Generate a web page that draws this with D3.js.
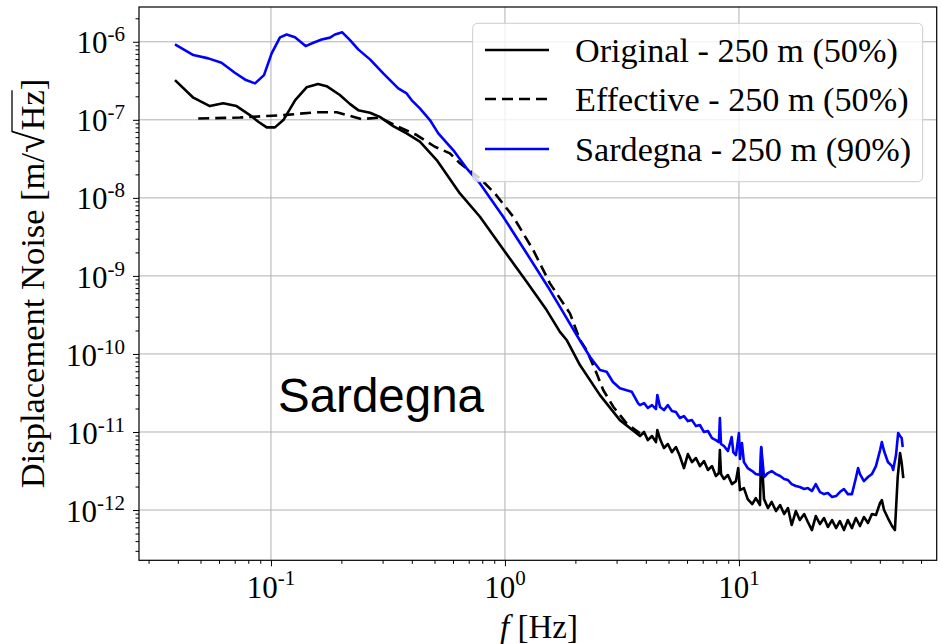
<!DOCTYPE html>
<html><head><meta charset="utf-8">
<script src="https://cdn.jsdelivr.net/npm/d3@7"></script>
<style>body{margin:0;background:#fff}svg{display:block}</style>
</head><body>
<svg id="c" width="942" height="644"></svg>
<script>
// ---------- data ----------
const xMajor = [0.1, 1, 10];
const xMajorExp = ["-1", "0", "1"];
const yMajor = [1e-12, 1e-11, 1e-10, 1e-9, 1e-8, 1e-7, 1e-6];
const yMajorExp = ["-12", "-11", "-10", "-9", "-8", "-7", "-6"];
const seriesNames = ["Original - 250 m (50%)", "Effective - 250 m (50%)", "Sardegna - 250 m (90%)"];

const origF = [0.0389,0.0466,0.0548,0.0625,0.0713,0.0813,0.0883,0.0959,0.104,0.113,0.127,0.142,0.159,0.173,0.197,0.218,0.236,0.265,0.292,0.333,0.380,0.433,0.511,0.642,0.782,1.0,1.238,1.507,1.718,1.835,2.092,2.547,3.10,3.65,
  3.776,3.93,4.08,4.25,4.42,4.48,4.60,4.78,4.97,5.17,5.38,5.59,5.82,6.05,6.30,6.55,6.81,7.09,7.37,7.67,7.97,8.21,8.29,8.38,8.63,8.97,9.33,9.71,9.93,10.1,10.5,10.9,11.4,11.8,12.3,12.45,12.8,13.3,13.8,14.4,15.0,15.6,16.2,16.8,17.5,18.2,19.0,19.7,20.5,21.3,22.2,23.1,24.0,25.0,26.0,27.0,28.1,29.2,30.4,31.6,32.9,34.2,35.6,37.0,38.5,40.1,40.8,41.7,43.3,45.1,46.4,47.7,48.8,49.6,50.4];
const origV = [3.23e-7,1.92e-7,1.50e-7,1.63e-7,1.50e-7,1.15e-7,9.44e-8,8.0e-8,8.0e-8,9.93e-8,1.79e-7,2.61e-7,2.87e-7,2.70e-7,2.08e-7,1.59e-7,1.33e-7,1.23e-7,1.09e-7,8.32e-8,6.70e-8,5.24e-8,3.05e-8,1.14e-8,5.73e-9,2.04e-9,8.41e-10,3.65e-10,1.92e-10,1.51e-10,7.21e-11,2.97e-11,1.42e-11,9.62e-12,
  8.88e-12,1.00e-11,7.88e-12,8.88e-12,7.43e-12,1.06e-11,8.12e-12,6.23e-12,7.01e-12,5.53e-12,6.42e-12,4.92e-12,3.45e-12,5.22e-12,4.12e-12,4.64e-12,3.66e-12,4.24e-12,3.26e-12,3.66e-12,2.73e-12,2.98e-12,5.87e-12,2.89e-12,2.50e-12,2.81e-12,2.15e-12,2.35e-12,3.45e-12,1.80e-12,1.91e-12,1.38e-12,1.19e-12,1.42e-12,1.16e-12,6.23e-12,1.38e-12,1.06e-12,1.27e-12,9.71e-13,1.16e-12,8.89e-13,1.06e-12,6.43e-13,9.71e-13,7.44e-13,8.89e-13,7.02e-13,5.54e-13,8.38e-13,6.62e-13,7.90e-13,6.06e-13,7.44e-13,5.88e-13,7.23e-13,5.54e-13,7.44e-13,5.88e-13,7.90e-13,6.24e-13,8.14e-13,6.82e-13,8.89e-13,8.63e-13,1.23e-12,1.34e-12,1.00e-12,7.90e-13,6.24e-13,5.54e-13,2.65e-12,5.38e-12,4.00e-12,2.57e-12];

const effF = [0.0489,0.0737,0.113,0.157,0.191,0.218,0.244,0.292,0.344,0.420,0.502,0.582,0.642,0.782,0.906,1.085,1.321,1.557,1.896,2.092,2.234,2.465,2.63,2.903,3.31,3.776];
const effV = [1.04e-7,1.07e-7,1.15e-7,1.25e-7,1.25e-7,1.12e-7,1.02e-7,1.07e-7,8.32e-8,6.38e-8,4.52e-8,3.72e-8,2.77e-8,1.78e-8,1.14e-8,5.73e-9,2.14e-9,8.03e-10,3.31e-10,1.51e-10,1.12e-10,5.64e-11,3.45e-11,2.11e-11,1.29e-11,9.61e-12];

const sardF = [0.0389,0.0466,0.0540,0.0615,0.0701,0.0782,0.0855,0.0934,0.1007,0.1093,0.1167,0.1267,0.1407,0.1517,0.1648,0.1788,0.1878,0.2018,0.2178,0.236,0.265,0.302,0.350,0.380,0.399,0.433,0.478,0.519,0.601,0.686,0.782,0.983,1.238,1.557,1.718,2.025,2.307,2.547,2.72,2.894,3.10,3.48,3.71,
  3.776,3.93,4.08,4.25,4.42,4.48,4.60,4.78,4.97,5.17,5.38,5.59,5.82,6.05,6.30,6.55,6.81,7.09,7.37,7.67,7.97,8.21,8.29,8.38,8.63,8.97,9.31,9.46,9.71,10.0,10.1,10.3,10.5,10.9,11.4,11.8,12.3,12.45,12.8,13.3,13.8,14.4,15.0,15.6,16.2,16.8,17.5,18.2,19.0,19.7,20.5,21.3,22.2,23.1,24.0,25.0,26.0,27.0,28.1,29.2,30.4,31.6,32.3,32.9,34.2,35.6,37.0,38.5,40.1,40.8,41.7,43.3,45.1,45.6,46.9,47.9,48.8,49.6,50.1];
const sardV = [9.26e-7,6.76e-7,6.13e-7,5.38e-7,4.01e-7,3.23e-7,2.93e-7,3.74e-7,7.10e-7,1.14e-6,1.24e-6,1.14e-6,8.81e-7,9.71e-7,1.07e-6,1.13e-6,1.24e-6,1.32e-6,1.05e-6,7.99e-7,5.95e-7,3.94e-7,2.53e-7,2.18e-7,1.79e-7,1.40e-7,9.93e-8,6.71e-8,4.10e-8,2.39e-8,1.53e-8,5.73e-9,1.95e-9,6.59e-10,4.02e-10,1.75e-10,9.21e-11,6.22e-11,5.92e-11,4.37e-11,3.63e-11,3.28e-11,2.33e-11,
  2.21e-11,2.35e-11,2.03e-11,2.21e-11,1.97e-11,2.98e-11,2.09e-11,1.91e-11,2.21e-11,1.86e-11,1.80e-11,1.51e-11,1.60e-11,1.38e-11,1.42e-11,1.19e-11,1.23e-11,9.99e-12,1.03e-11,8.37e-12,7.88e-12,7.43e-12,1.51e-11,7.01e-12,6.61e-12,5.70e-12,8.62e-12,5.54e-12,5.07e-12,9.70e-12,4.50e-12,7.22e-12,4.12e-12,3.45e-12,3.16e-12,2.89e-12,2.81e-12,6.42e-12,2.65e-12,2.98e-12,3.16e-12,2.89e-12,2.73e-12,2.50e-12,2.42e-12,2.15e-12,2.03e-12,1.97e-12,1.86e-12,1.91e-12,1.75e-12,2.15e-12,1.70e-12,1.60e-12,1.65e-12,1.47e-12,1.51e-12,1.70e-12,1.86e-12,1.60e-12,1.60e-12,2.57e-12,3.45e-12,2.89e-12,2.35e-12,2.65e-12,2.89e-12,3.66e-12,5.87e-12,7.43e-12,5.70e-12,4.12e-12,3.66e-12,3.26e-12,5.07e-12,9.70e-12,8.88e-12,8.37e-12,6.42e-12];

// ---------- layout ----------
const L = 139, R = 936.7, T = 7, B = 560.3;
const serif = "'Liberation Serif','Times New Roman',serif";
const svg = d3.select("#c");
const x = d3.scaleLog().domain([0.0273, 70]).range([L, R]);
const y = d3.scaleLog().domain([2.27e-13, 2.79e-6]).range([B, T]);

// minor tick positions
const xMinor = [], yMinor = [];
for (let k = -2; k <= 1; k++) for (let m = 2; m <= 9; m++) { const v = m * Math.pow(10, k); if (v > x.domain()[0] && v < x.domain()[1]) xMinor.push(v); }
for (let k = -13; k <= -6; k++) for (let m = 2; m <= 9; m++) { const v = m * Math.pow(10, k); if (v > y.domain()[0] && v < y.domain()[1]) yMinor.push(v); }

// grid
const grid = svg.append("g").attr("stroke", "#b0b0b0").attr("stroke-width", 1);
grid.selectAll(".gx").data(xMajor).join("line").attr("x1", d => x(d)).attr("x2", d => x(d)).attr("y1", T).attr("y2", B);
grid.selectAll(".gy").data(yMajor).join("line").attr("y1", d => y(d)).attr("y2", d => y(d)).attr("x1", L).attr("x2", R);

// clip
svg.append("clipPath").attr("id", "clip").append("rect").attr("x", L).attr("y", T).attr("width", R - L).attr("height", B - T);

const line = d3.line().x(d => x(d[0])).y(d => y(d[1]));
const plot = svg.append("g").attr("clip-path", "url(#clip)");
const series = [
  { f: origF, v: origV, color: "#000", dash: null },
  { f: effF, v: effV, color: "#000", dash: "11,6" },
  { f: sardF, v: sardV, color: "#0000ff", dash: null }
];
series.forEach(s => {
  plot.append("path").datum(d3.zip(s.f, s.v)).attr("d", line)
    .attr("fill", "none").attr("stroke", s.color).attr("stroke-width", 2.6)
    .attr("stroke-linejoin", "round").attr("stroke-dasharray", s.dash);
});

// axes ticks
function styleAxis(g) { g.select(".domain").remove(); g.selectAll("line").attr("stroke", "#000").attr("stroke-width", 1); }
svg.append("g").attr("transform", `translate(0,${B})`).call(d3.axisBottom(x).tickValues(xMajor).tickSize(6).tickFormat("")).call(styleAxis);
svg.append("g").attr("transform", `translate(0,${B})`).call(d3.axisBottom(x).tickValues(xMinor).tickSize(3.5).tickFormat("")).call(styleAxis);
svg.append("g").attr("transform", `translate(${L},0)`).call(d3.axisLeft(y).tickValues(yMajor).tickSize(6).tickFormat("")).call(styleAxis);
svg.append("g").attr("transform", `translate(${L},0)`).call(d3.axisLeft(y).tickValues(yMinor).tickSize(3.5).tickFormat("")).call(styleAxis);

// frame
svg.append("rect").attr("x", L).attr("y", T).attr("width", R - L).attr("height", B - T)
  .attr("fill", "none").attr("stroke", "#000").attr("stroke-width", 1.2);

// tick labels
xMajor.forEach((v, i) => {
  const t = svg.append("text").attr("x", x(v)).attr("y", 598).attr("text-anchor", "middle")
    .attr("font-family", serif).attr("font-size", 31).attr("fill", "#000");
  t.append("tspan").text("10");
  t.append("tspan").attr("dy", -13).attr("font-size", 21).text(xMajorExp[i]);
});
yMajor.forEach((v, i) => {
  const t = svg.append("text").attr("x", 125).attr("y", y(v) + 11.6).attr("text-anchor", "end")
    .attr("font-family", serif).attr("font-size", 31).attr("fill", "#000");
  t.append("tspan").text("10");
  t.append("tspan").attr("dy", -12).attr("font-size", 21).text(yMajorExp[i]);
});

// axis titles
const xt = svg.append("text").attr("x", 539).attr("y", 638).attr("text-anchor", "middle")
  .attr("font-family", serif).attr("font-size", 33).attr("fill", "#000");
xt.append("tspan").attr("font-style", "italic").text("f");
xt.append("tspan").text(" [Hz]");

const yg = svg.append("g").attr("transform", "translate(44,283.5) rotate(-90)");
const yt = yg.append("text").attr("x", 0).attr("y", 0).attr("text-anchor", "middle")
  .attr("font-family", serif).attr("font-size", 34.5).attr("fill", "#000");
yt.append("tspan").text("Displacement Noise [m/");
const rad = yt.append("tspan").attr("font-size", 41).text("\u221A");
const hz = yt.append("tspan").text("Hz");
yt.append("tspan").text("]");
const rb = rad.node().getBBox(), hb = hz.node().getBBox();
yg.append("line").attr("x1", rb.x + rb.width - 1.5).attr("x2", hb.x + hb.width)
  .attr("y1", -32).attr("y2", -32).attr("stroke", "#000").attr("stroke-width", 1.3);

// legend
const lg = svg.append("g");
lg.append("rect").attr("x", 472.7).attr("y", 23.3).attr("width", 450).attr("height", 158.4).attr("rx", 5)
  .attr("fill", "#fff").attr("fill-opacity", 0.8).attr("stroke", "#cccccc").attr("stroke-width", 1);
const rows = [50, 99, 149];
series.forEach((s, i) => {
  lg.append("line").attr("x1", 485).attr("x2", 549).attr("y1", rows[i]).attr("y2", rows[i])
    .attr("stroke", s.color).attr("stroke-width", 2.6).attr("stroke-dasharray", s.dash);
  lg.append("text").attr("x", 575).attr("y", rows[i] + 11.5).attr("font-family", serif)
    .attr("font-size", 34.2).attr("fill", "#000").text(seriesNames[i]);
});

// annotation
svg.append("text").attr("x", 278).attr("y", 412).attr("font-family", "'Liberation Sans',Arial,sans-serif")
  .attr("font-size", 47.5).attr("fill", "#000").text("Sardegna");
</script>
</body></html>
